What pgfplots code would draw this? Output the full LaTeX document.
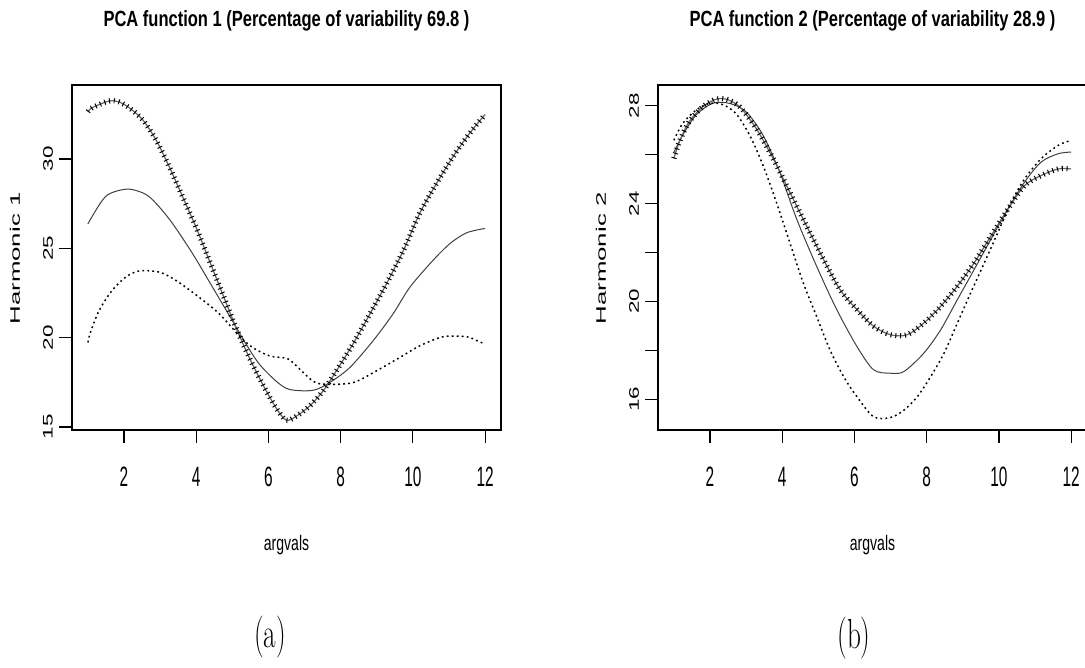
\documentclass[border=0pt]{standalone}
\usepackage{pgfplots}
\pgfplotsset{compat=1.18}
\usepackage{fontspec}
\newfontfamily\arial{Liberation Sans}
\newcommand\sx[1]{\scalebox{0.55}[1]{\arial\fontsize{14}{14}\selectfont #1}}
\newcommand\sy[1]{\scalebox{1}[0.62]{\arial\fontsize{11.2}{12}\selectfont #1}}
\pgfplotsset{
  meanline/.style={smooth, black!75, line width=0.5pt},
  plusline/.style={smooth, black, line width=2.6pt, dash pattern=on 0.5pt off 1.9pt},
  plusthin/.style={smooth, black!60, line width=0.6pt},
  minusline/.style={smooth, black, line width=0.75pt, dash pattern=on 0.9pt off 1.6pt},
  rstyle/.style={
    scale only axis, width=214.5pt, height=172.5pt,
    xmin=0.56, xmax=12.44,
    tick align=outside, xtick pos=bottom, ytick pos=left,
    major tick length=6.5pt,
    xtick={2,4,6,8,10,12},
    xticklabels={\sx{2},\sx{4},\sx{6},\sx{8},\sx{10},\sx{12}},
    xticklabel style={anchor=center, yshift=-17pt},
    yticklabel style={anchor=center, xshift=-5.5pt, rotate=90},
    axis line style={black, line width=0.7pt},
    tick style={black, line width=0.6pt},
    every axis x label/.style={at={(axis description cs:0.5,0)}, anchor=center, yshift=-57.5pt},
    every axis y label/.style={at={(axis description cs:0,0.5)}, xshift=-28.5pt, yshift=-0.5pt, anchor=center, rotate=90},
    every axis title/.style={at={(axis description cs:0.5,1)}, anchor=base, yshift=29.2pt},
    xlabel={\scalebox{0.67}[1]{\arial\fontsize{10.5}{12}\selectfont argvals}},
  }
}
\pgfplotstableread{
x y
1.0 32.65
1.12 32.87
1.58 33.24
1.86 33.19
2.14 32.87
2.51 32.21
2.88 31.09
3.25 29.58
3.62 27.9
3.99 26.2
4.36 24.33
4.73 22.45
5.10 20.57
5.47 18.88
5.84 17.39
6.21 16.07
6.49 15.38
6.77 15.6
7.14 16.17
7.51 17.01
7.88 18.14
8.34 19.64
8.81 21.33
9.27 23.02
9.74 24.89
10.19 26.96
10.66 28.65
11.12 30.15
11.58 31.46
12.0 32.49
}\plusA
\pgfplotstableread{
x y
1.0 25.85
1.15 26.52
1.42 27.34
1.8 27.96
2.17 28.27
2.45 28.27
2.82 27.96
3.28 27.07
3.75 25.84
4.21 24.47
4.67 23.1
5.14 21.73
5.6 20.49
6.07 19.67
6.53 18.99
7.0 18.64
7.46 18.64
7.92 19.12
8.39 19.81
8.85 20.63
9.32 21.59
9.78 22.68
10.25 23.78
10.71 24.74
11.17 25.15
11.64 25.42
12.0 25.42
}\plusB
\begin{document}
\begin{tikzpicture}
\useasboundingbox (0,0) rectangle (542.5pt,334pt);
% ---------------- panel (a)
\begin{axis}[rstyle, at={(36pt,119pt)}, anchor=south west,
  ymin=14.83, ymax=34.14,
  ytick={15,20,25,30},
  yticklabels={\sy{15},\sy{20},\sy{25},\sy{30}},
  ylabel={\resizebox{66pt}{5pt}{\arial Harmonic 1}},
  title={\scalebox{0.75}[1]{\arial\fontsize{11}{13}\selectfont\bfseries PCA function 1 (Percentage of variability 69.8 )}},
]
\addplot[meanline] coordinates {
(1.0,26.36)(1.49,27.9)(2.05,28.31)(2.42,28.18)(2.69,27.9)(2.97,27.33)(3.34,26.4)(3.9,24.7)(4.45,22.83)(5.0,20.95)(5.38,19.64)(5.75,18.51)(6.21,17.57)(6.58,17.1)(7.23,17.05)(7.69,17.48)(8.25,18.32)(8.9,19.83)(9.45,21.33)(9.92,22.83)(10.56,24.33)(11.03,25.27)(11.49,25.87)(12.0,26.11)};
\addplot[plusthin] table {\plusA};
\addplot[plusline] table {\plusA};
\addplot[minusline] coordinates {
(1.0,19.73)(1.07,20.29)(1.31,21.51)(1.67,22.64)(2.05,23.39)(2.42,23.73)(2.97,23.67)(3.44,23.2)(4.08,22.26)(4.64,21.33)(5.19,20.11)(5.56,19.45)(6.03,18.98)(6.49,18.85)(6.68,18.6)(7.23,17.57)(7.6,17.39)(8.34,17.48)(8.99,18.14)(9.64,18.89)(10.19,19.54)(10.84,20.05)(11.49,20.05)(11.77,19.83)(12.0,19.64)};
\end{axis}
% ---------------- panel (b)
\begin{axis}[rstyle, at={(329pt,119pt)}, anchor=south west,
  ymin=14.75, ymax=28.85,
  ytick={16,18,20,22,24,26,28},
  yticklabels={\sy{16},,\sy{20},,\sy{24},,\sy{28}},
  ylabel={\resizebox{66pt}{5pt}{\arial Harmonic 2}},
  title={\scalebox{0.75}[1]{\arial\fontsize{11}{13}\selectfont\bfseries PCA function 2 (Percentage of variability 28.9 )}},
]
\addplot[meanline] coordinates {
(1.0,26.1)(1.24,26.79)(1.61,27.62)(2.07,28.1)(2.54,28.1)(3.0,27.75)(3.47,26.79)(3.93,25.29)(4.4,23.37)(4.95,21.45)(5.51,19.67)(6.07,18.16)(6.53,17.21)(7.0,17.07)(7.37,17.14)(7.92,17.89)(8.39,18.85)(8.85,20.08)(9.32,21.32)(9.78,22.55)(10.25,23.78)(10.71,24.88)(11.17,25.7)(11.64,26.04)(12.0,26.11)};
\addplot[plusthin] table {\plusB};
\addplot[plusline] table {\plusB};
\addplot[minusline] coordinates {
(1.0,26.59)(1.24,27.27)(1.61,27.82)(1.98,28.1)(2.35,28.05)(2.72,27.68)(3.1,26.79)(3.47,25.56)(3.84,24.05)(4.21,22.41)(4.58,20.77)(4.95,19.4)(5.32,18.03)(5.7,16.93)(6.07,16.11)(6.53,15.29)(7.0,15.26)(7.37,15.56)(7.74,16.11)(8.11,16.93)(8.48,17.89)(8.85,19.12)(9.22,20.36)(9.6,21.59)(9.97,22.82)(10.34,24.05)(10.71,25.01)(11.17,25.84)(11.64,26.38)(12.0,26.59)};
\end{axis}
\node at (135pt,15.5pt) {\scalebox{0.65}[1]{\fontsize{21}{21}\selectfont (a)}};
\node at (427pt,15pt) {\scalebox{0.65}[1]{\fontsize{21}{21}\selectfont (b)}};
\end{tikzpicture}
\end{document}
